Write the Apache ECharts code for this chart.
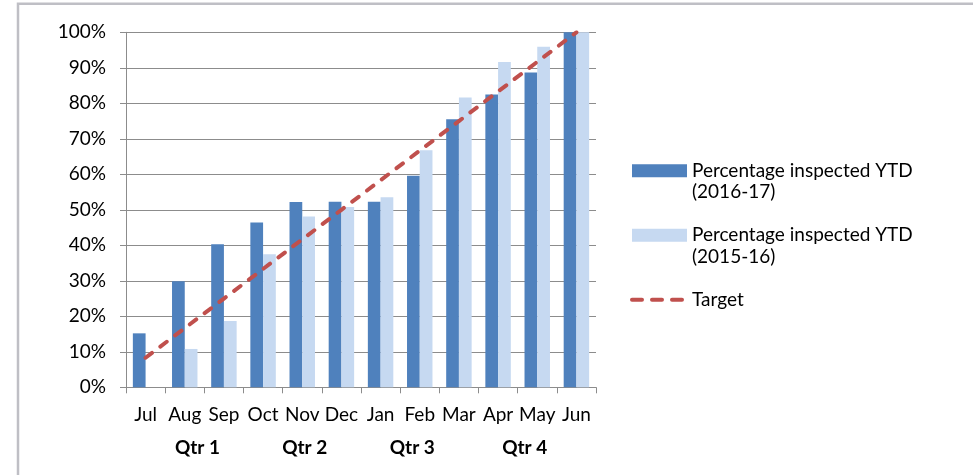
<!DOCTYPE html>
<html>
<head>
<meta charset="utf-8">
<script src="https://cdn.jsdelivr.net/npm/echarts@6/dist/echarts.min.js"></script>
<style>
html,body{margin:0;padding:0;background:#fff;}
#chart{width:973px;height:475px;}
</style>
</head>
<body>
<div id="chart"></div>
<script>
const months = ['Jul','Aug','Sep','Oct','Nov','Dec','Jan','Feb','Mar','Apr','May','Jun'];
const quarters = ['Qtr 1','Qtr 2','Qtr 3','Qtr 4'];
const ytd2016 = [0.152,0.299,0.403,0.464,0.522,0.523,0.523,0.596,0.755,0.825,0.887,1.0];
const ytd2015 = [null,0.108,0.187,0.375,0.481,0.508,0.535,0.668,0.816,0.916,0.959,1.0];
const target = [0.0833,0.1667,0.25,0.3333,0.4167,0.5,0.5833,0.6667,0.75,0.8333,0.9167,1.0];
const name2016 = '\nPercentage inspected YTD\n(2016-17)';
const name2015 = '\nPercentage inspected YTD\n(2015-16)';
const nameTarget = '\nTarget\n ';

const FONT = 'Lato';
const FS = 19;
const quarterX = [197.5, 304.7, 412.3, 524.7];

const chart = echarts.init(document.getElementById('chart'), null, {renderer:'canvas'});
chart.setOption({
  animation: false,
  backgroundColor: '#ffffff',
  textStyle: {fontFamily: FONT},
  grid: {left: 126, right: 377, top: 32.3, bottom: 87.7, containLabel: false},
  xAxis: {
    type: 'category',
    data: months,
    boundaryGap: true,
    axisLine: {show: true, lineStyle: {color: '#8c8c8c', width: 1}},
    axisTick: {show: true, length: 6, alignWithLabel: false, lineStyle: {color: '#8c8c8c'}},
    axisLabel: {color: '#000', fontFamily: FONT, fontSize: FS, margin: 18, interval: 0}
  },
  yAxis: {
    type: 'value',
    min: 0, max: 1, interval: 0.1,
    axisLine: {show: true, lineStyle: {color: '#8c8c8c', width: 1}},
    axisTick: {show: true, length: 6, lineStyle: {color: '#8c8c8c'}},
    splitLine: {show: true, lineStyle: {color: '#8c8c8c', width: 1}},
    axisLabel: {color: '#000', fontFamily: FONT, fontSize: FS, margin: 20,
      formatter: v => Math.round(v * 100) + '%'}
  },
  legend: {
    orient: 'vertical',
    left: 630, top: 138.5,
    padding: 0,
    itemGap: 0,
    itemWidth: 55, itemHeight: 13,
    textStyle: {color: '#000', fontFamily: FONT, fontSize: FS, lineHeight: 21.5},
    data: [
      {name: name2016, icon: 'rect'},
      {name: name2015, icon: 'rect'},
      {name: nameTarget, itemStyle: {opacity: 0},
       lineStyle: {color: '#c0504d', width: 4, type: [10, 10], cap: 'round'}}
    ]
  },
  graphic: [
    {type: 'rect', silent: true, shape: {x: 18, y: 3.7, width: 1100, height: 1000},
     style: {fill: 'none', stroke: '#bfbfc5', lineWidth: 2.5}},
    ...quarters.map((q, i) => ({
      type: 'text', silent: true,
      style: {text: q, x: quarterX[i], y: 448, align: 'center', verticalAlign: 'middle',
        font: 'bold ' + FS + 'px ' + FONT, fill: '#000'}
    }))
  ],
  series: [
    {name: name2016, type: 'bar', data: ytd2016, barGap: '0%', barCategoryGap: '35%',
     itemStyle: {color: '#4f81bd'}},
    {name: name2015, type: 'bar', data: ytd2015, barGap: '0%', barCategoryGap: '35%',
     itemStyle: {color: '#c6d9f1'}},
    {name: nameTarget, type: 'line', data: target, symbol: 'none', z: 5,
     lineStyle: {color: '#c0504d', width: 4, type: [8, 10.5], cap: 'round'},
     itemStyle: {color: '#c0504d'}}
  ]
});
</script>
</body>
</html>
